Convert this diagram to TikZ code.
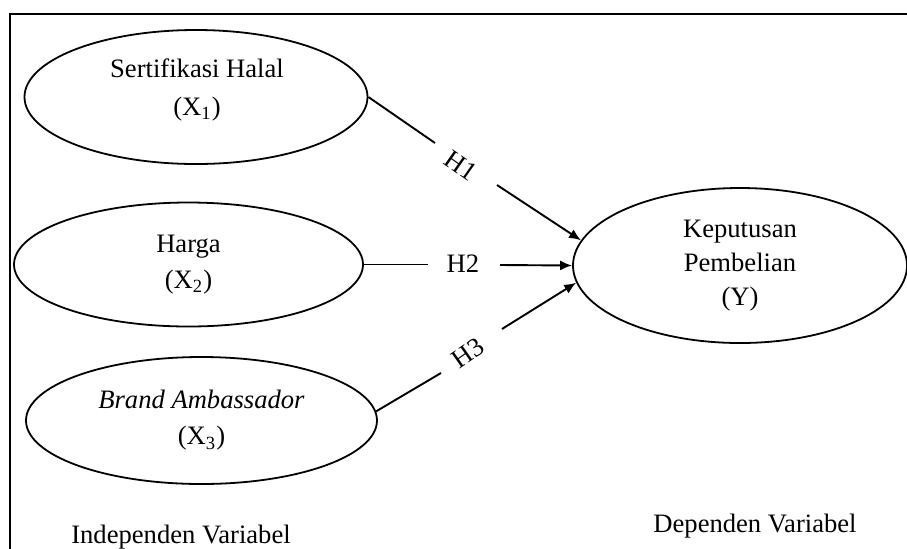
\documentclass[tikz,border=0pt]{standalone}
\usepackage{fontspec}
\setmainfont{Liberation Serif}
\usetikzlibrary{shapes.geometric,arrows.meta}
\tikzset{
  varell/.style={draw, ellipse, line width=0.9pt, inner sep=0pt, align=center,
    font=\fontsize{13.3}{18}\selectfont},
  vartext/.style={inner sep=0pt, align=center, font=\fontsize{13.3}{19}\selectfont},
  conn/.style={line width=0.95pt},
  arr/.style={conn, -{Latex[length=6pt,width=5pt]}},
  hlab/.style={inner sep=0pt, font=\fontsize{13.3}{16}\selectfont},
  foot/.style={inner sep=0pt, anchor=base, font=\fontsize{13.3}{16}\selectfont},
}
\begin{document}
\begin{tikzpicture}[x=0.5pt,y=-0.5pt]
\useasboundingbox (0,0) rectangle (907,548);
\fill[white] (0,0) rectangle (907,548);
\clip (0,0) rectangle (907,548);
\draw[line width=1pt] (10,14) rectangle (930,570);

\node[varell, minimum width=171.5pt, minimum height=67pt] (e1) at (196,97) {};
\node[vartext] (t1) at (197,90) {Sertifikasi Halal\\(X\textsubscript{1})};
\node[varell, minimum width=174.5pt, minimum height=62pt] (e2) at (188.5,264.5)
  {Harga\\(X\textsubscript{2})};
\node[varell, minimum width=175.5pt, minimum height=63.5pt] (e3) at (201.5,420.5)
  {\textit{Brand Ambassador}\\(X\textsubscript{3})};
\node[varell, minimum width=167pt, minimum height=77.5pt,
  font=\fontsize{13.3}{17}\selectfont] (ey) at (740,265.5)
  {Keputusan\\Pembelian\\(Y)};

% H1
\coordinate (h1a) at (435,143);
\coordinate (h1b) at (497,185);
\node[hlab, rotate=-35] (h1) at (461,166) {H1};
\draw[conn] (e1.east) -- (h1a);
\draw[arr] (h1b) -- (ey.171.5);

% H2
\coordinate (h2a) at (428,264.5);
\coordinate (h2b) at (500,265);
\node[hlab] (h2) at (463,264) {H2};
\draw[conn] (e2.east) -- (h2a);
\draw[arr] (h2b) -- (ey.west);

% H3
\coordinate (h3a) at (441,373);
\coordinate (h3b) at (502,329);
\node[hlab, rotate=35] (h3) at (468,353) {H3};
\draw[conn] (e3.3) -- (h3a);
\draw[arr] (h3b) -- (ey.186);

\node[foot] (indep) at (181,543) {Independen Variabel};
\node[foot] (dep) at (755,532) {Dependen Variabel};
\end{tikzpicture}
\end{document}
